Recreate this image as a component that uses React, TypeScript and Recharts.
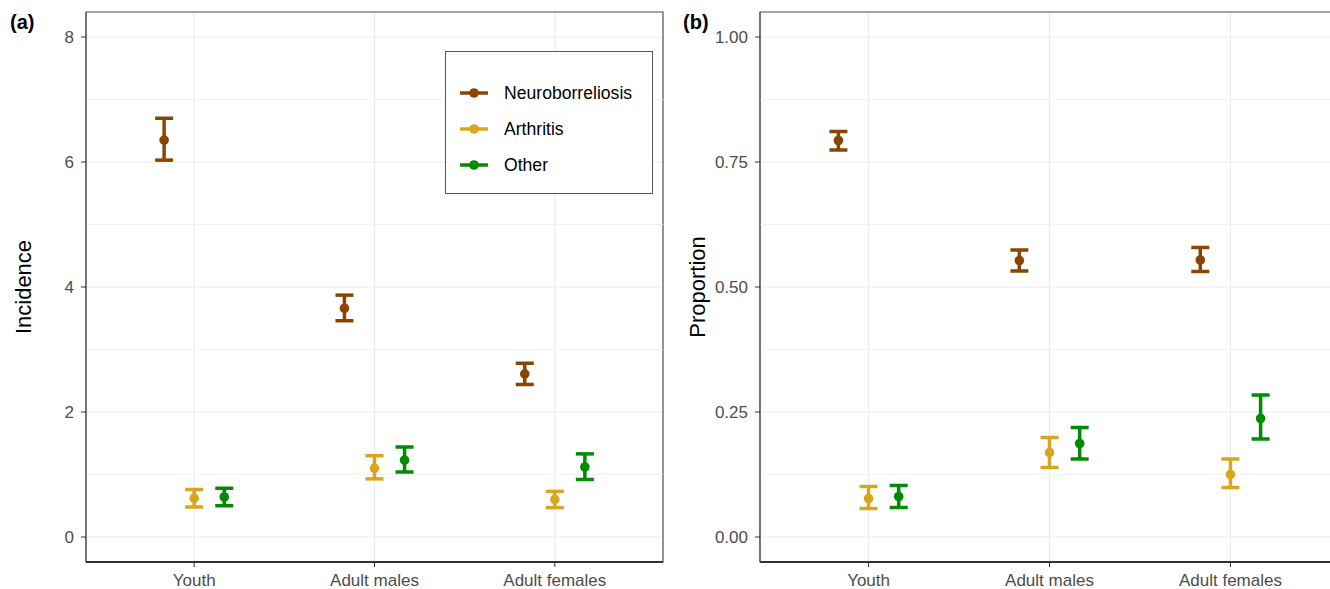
import { CartesianGrid, ErrorBar, ReferenceArea, ReferenceLine, Scatter, ScatterChart, XAxis, YAxis } from 'recharts';

const FONT = '"Liberation Sans", Arial, sans-serif';

const groups = ['Youth', 'Adult males', 'Adult females'];
const seriesNames = ['Neuroborreliosis', 'Arthritis', 'Other'];
const colors = ['#8B4500', '#DAA520', '#008B00'];
// position_dodge(0.5) with three series
const dodge = [-1 / 6, 0, 1 / 6];

// (a) incidence
const incNeuro = [6.35, 3.66, 2.61];
const incNeuroLo = [6.03, 3.46, 2.44];
const incNeuroHi = [6.7, 3.87, 2.78];
const incArth = [0.62, 1.1, 0.6];
const incArthLo = [0.48, 0.93, 0.47];
const incArthHi = [0.76, 1.3, 0.73];
const incOther = [0.64, 1.23, 1.12];
const incOtherLo = [0.5, 1.04, 0.92];
const incOtherHi = [0.78, 1.44, 1.33];
const incTicks = [0, 2, 4, 6, 8];
const incMinor = [1, 3, 5, 7];

// (b) proportion
const propNeuro = [0.793, 0.553, 0.554];
const propNeuroLo = [0.774, 0.532, 0.531];
const propNeuroHi = [0.811, 0.574, 0.579];
const propArth = [0.077, 0.169, 0.125];
const propArthLo = [0.057, 0.139, 0.099];
const propArthHi = [0.101, 0.199, 0.156];
const propOther = [0.081, 0.187, 0.237];
const propOtherLo = [0.059, 0.156, 0.196];
const propOtherHi = [0.103, 0.219, 0.284];
const propTicks = [0, 0.25, 0.5, 0.75, 1];
const propMinor = [0.125, 0.375, 0.625, 0.875];

function makeRows(mean: number[], lo: number[], hi: number[], k: number) {
  return groups.map((g, i) => ({
    group: g,
    x: i + 1 + dodge[k],
    y: mean[i],
    err: [mean[i] - lo[i], hi[i] - mean[i]],
  }));
}

const incSeries = [
  makeRows(incNeuro, incNeuroLo, incNeuroHi, 0),
  makeRows(incArth, incArthLo, incArthHi, 1),
  makeRows(incOther, incOtherLo, incOtherHi, 2),
];
const propSeries = [
  makeRows(propNeuro, propNeuroLo, propNeuroHi, 0),
  makeRows(propArth, propArthLo, propArthHi, 1),
  makeRows(propOther, propOtherLo, propOtherHi, 2),
];

function Dot(color: string) {
  return (p: any) => <circle cx={p.cx} cy={p.cy} r={4.8} fill={color} />;
}

interface PanelProps {
  left: number;
  width: number;
  marginRight: number;
  yWidth: number;
  tag: string;
  yLabel: string;
  domain: [number, number];
  ticks: number[];
  minor: number[];
  fmt: (v: number) => string;
  series: { x: number; y: number; err: number[] }[][];
}

function Panel({ left, width, marginRight, yWidth, tag, yLabel, domain, ticks, minor, fmt, series }: PanelProps) {
  const tickStyle = { fill: '#4d4d4d', fontSize: 17, fontFamily: FONT };
  return (
    <div style={{ position: 'absolute', left, top: 0, width, height: 589 }}>
      <ScatterChart width={width} height={589} margin={{ top: 12, right: marginRight, bottom: 0, left: 0 }}>
        <CartesianGrid stroke="#ebebeb" strokeWidth={1.1} />
        {minor.map((m) => (
          <ReferenceLine key={m} y={m} stroke="#f0f0f0" strokeWidth={0.9} />
        ))}
        <ReferenceArea x1={0.4} x2={3.6} y1={domain[0]} y2={domain[1]} fill="none" stroke="#555" strokeWidth={1.2} />
        <XAxis
          type="number"
          dataKey="x"
          domain={[0.4, 3.6]}
          ticks={[1, 2, 3]}
          tickFormatter={(v: number) => groups[v - 1]}
          allowDataOverflow
          height={27}
          tickSize={5}
          tickMargin={7}
          tick={tickStyle}
          tickLine={{ stroke: '#333' }}
          axisLine={{ stroke: '#333', strokeWidth: 2 }}
        />
        <YAxis
          type="number"
          dataKey="y"
          domain={domain}
          ticks={ticks}
          tickFormatter={fmt}
          allowDataOverflow
          width={yWidth}
          tickSize={5}
          tickMargin={7}
          tick={tickStyle}
          tickLine={{ stroke: '#333' }}
          axisLine={{ stroke: '#555' }}
          label={() => {
            const cx = yWidth - 63;
            const cy = 287;
            return (
              <text
                x={cx}
                y={cy}
                transform={`rotate(-90, ${cx}, ${cy})`}
                textAnchor="middle"
                dominantBaseline="central"
                fontSize={22}
                fontFamily={FONT}
                fill="#000"
              >
                {yLabel}
              </text>
            );
          }}
        />
        {series.map((rows, k) => (
          <Scatter key={seriesNames[k]} name={seriesNames[k]} data={rows} shape={Dot(colors[k])} isAnimationActive={false}>
            <ErrorBar dataKey="err" direction="y" width={9} strokeWidth={3.5} stroke={colors[k]} />
          </Scatter>
        ))}
      </ScatterChart>
      <div
        style={{
          position: 'absolute',
          left: tag === '(b)' ? 3 : 10,
          top: 11,
          fontFamily: FONT,
          fontWeight: 'bold',
          fontSize: 20,
          lineHeight: '22px',
          color: '#000',
        }}
      >
        {tag}
      </div>
    </div>
  );
}

function Legend() {
  return (
    <svg width={208} height={143} style={{ position: 'absolute', left: 445, top: 51 }}>
      <rect x={0.5} y={0.5} width={207} height={142} fill="#fff" stroke="#555" strokeWidth={1} />
      {seriesNames.map((n, k) => {
        const cy = 42 + k * 36;
        return (
          <g key={n}>
            <line x1={15} x2={43} y1={cy} y2={cy} stroke={colors[k]} strokeWidth={3.5} />
            <circle cx={29} cy={cy} r={4.8} fill={colors[k]} />
            <text x={59} y={cy} dominantBaseline="central" fontSize={17.6} fontFamily={FONT} fill="#000">
              {n}
            </text>
          </g>
        );
      })}
    </svg>
  );
}

export default function App() {
  return (
    <div style={{ position: 'absolute', left: 0, top: 0, width: 1330, height: 589, overflow: 'hidden', background: '#fff' }}>
      <Panel
        left={0}
        width={680}
        marginRight={17}
        yWidth={86}
        tag="(a)"
        yLabel="Incidence"
        domain={[-0.4, 8.4]}
        ticks={incTicks}
        minor={incMinor}
        fmt={(v) => String(v)}
        series={incSeries}
      />
      <Legend />
      <Panel
        left={680}
        width={669}
        marginRight={10}
        yWidth={80}
        tag="(b)"
        yLabel="Proportion"
        domain={[-0.05, 1.05]}
        ticks={propTicks}
        minor={propMinor}
        fmt={(v) => v.toFixed(2)}
        series={propSeries}
      />
    </div>
  );
}
